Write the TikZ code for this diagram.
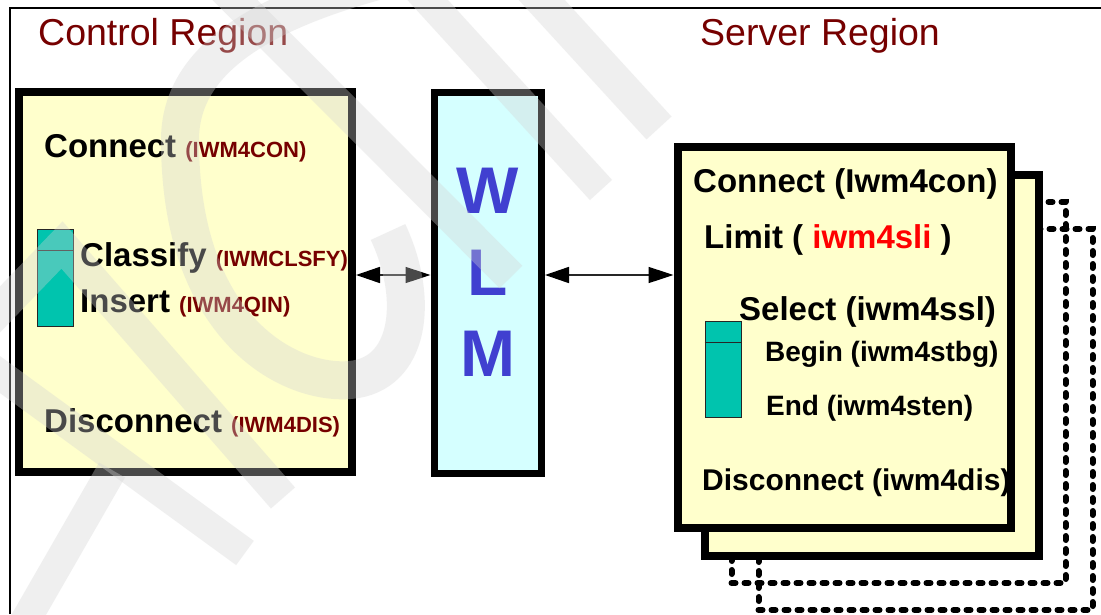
\documentclass[tikz,border=0pt]{standalone}
\usepackage{fontspec}
\setmainfont{Liberation Sans}
\usetikzlibrary{arrows.meta}

\definecolor{boxyellow}{HTML}{FFFFCC}
\definecolor{wlmcyan}{HTML}{D5FFFF}
\definecolor{wlmblue}{HTML}{4040D0}
\definecolor{queueteal}{HTML}{00C4AE}
\definecolor{modred}{HTML}{760000}
\definecolor{hotred}{HTML}{FF0000}
\definecolor{stampgray}{HTML}{D4D4D4}

\newcommand{\fs}[1]{\fontsize{#1}{#1}\selectfont}

\tikzset{
  regionbox/.style={draw=black, line width=8pt, fill=boxyellow, inner sep=0pt},
  wlmbox/.style={draw=black, line width=7pt, fill=wlmcyan, inner sep=0pt},
  ghostbox/.style={draw=black, line width=6pt, line cap=round,
                   dash pattern=on 4pt off 9pt, inner sep=0pt},
  queuebar/.style={draw=black!85, line width=0.9pt, fill=queueteal, inner sep=0pt},
  callname/.style={anchor=base west, inner sep=0pt, font=\bfseries\fs{33}},
  callsmall/.style={anchor=base west, inner sep=0pt, font=\bfseries\fs{28}},
  regiontitle/.style={anchor=base west, inner sep=0pt, font=\fs{37.5}, text=modred},
  wlmletter/.style={font=\bfseries\fs{66}, text=wlmblue, inner sep=0pt},
  link/.style={line width=1.6pt, black!85,
               {Triangle[length=24pt,width=16pt,color=black]}-{Triangle[length=25pt,width=16pt,color=black]}},
  stamp/.style={draw=stampgray, draw opacity=0.35, line width=32pt, line cap=butt, line join=miter}
}

\begin{document}
\begin{tikzpicture}[x=1pt, y=-1pt]
\useasboundingbox (0,0) rectangle (1101,614);
\fill[white] (0,0) rectangle (1101,614);

% page frame
\draw[line width=1.2pt] (10,614) -- (10,8) -- (1101,8);

% titles
\node[regiontitle] (ctitle) at (38,45) {Control Region};
\node[regiontitle] (stitle) at (700,45) {Server Region};

% control region
\node[regionbox, minimum width=333pt, minimum height=380pt] (ctrl) at (185.5,282) {};
\node[callname] (ccon) at (44,157) {Connect \textcolor{modred}{\fs{22}(IWM4CON)}};
\node[callname] (ccls) at (80,266) {Classify \textcolor{modred}{\fs{22}(IWMCLSFY)}};
\node[callname] (cins) at (80,312) {Insert \textcolor{modred}{\fs{22}(IWM4QIN)}};
\node[callname] (cdis) at (44,432) {Disconnect \textcolor{modred}{\fs{22}(IWM4DIS)}};
\node[queuebar, minimum width=36pt, minimum height=97pt] (cq) at (55,277.5) {};
\coordinate (cqline) at (0,250);
\draw[black!85, line width=0.9pt] (cq.west |- cqline) -- (cq.east |- cqline);

% WLM
\node[wlmbox, minimum width=107.5pt, minimum height=381pt] (wlm) at (487.75,282.5) {};
\node[wlmletter] (lw) at (487.75,191) {W};
\node[wlmletter] (ll) at (487.75,272.5) {L};
\node[wlmletter] (lm) at (487.75,353.5) {M};

% server region: stacked address spaces
\node[ghostbox, minimum width=334pt, minimum height=381pt] (s4) at (925.5,419.5) {};
\node[ghostbox, minimum width=334pt, minimum height=381pt] (s3) at (898.5,392.5) {};
\node[regionbox, minimum width=334pt, minimum height=381pt] (s2) at (871.5,365.5) {};
\node[regionbox, minimum width=333.5pt, minimum height=381pt] (s1) at (844.25,337.5) {};

\node[callname] (scon) at (693,192) {Connect (Iwm4con)};
\node[callname] (slim) at (704,248) {Limit ( \textcolor{hotred}{iwm4sli} )};
\node[callname] (ssel) at (739,320) {Select (iwm4ssl)};
\node[callsmall] (sbeg) at (765,361) {Begin (iwm4stbg)};
\node[callsmall] (send) at (766,415) {End (iwm4sten)};
\node[callname, font=\bfseries\fs{30}] (sdis) at (702,490) {Disconnect (iwm4dis)};
\node[queuebar, minimum width=36pt, minimum height=96pt] (sq) at (723,369) {};
\coordinate (sqline) at (0,342);
\draw[black!85, line width=0.9pt] (sq.west |- sqline) -- (sq.east |- sqline);

% connectors
\coordinate (ay) at (0,275);
\draw[link] (ctrl.east |- ay) -- (wlm.west |- ay);
\draw[link] (wlm.east |- ay) -- (s1.west |- ay);

% background stamp
\begin{scope}
\clip (0,0) rectangle (1101,614);
\draw[stamp, line width=34pt] (518,-26) -- (659,128);
\draw[stamp, line width=30pt] (404,-26) -- (601,190);
\draw[stamp] (209,-26) -- (511,277);
\draw[stamp, line width=38pt] (400,-25) .. controls (260,10) and (180,60) .. (180,140)
      .. controls (180,330) and (290,385) .. (350,380)
      .. controls (410,375) and (420,300) .. (388,232);
\draw[stamp] (-15,325) -- (62,245) -- (283,498);
\draw[stamp, line width=30pt] (-20,360) -- (245,553);
\draw[stamp, line width=30pt] (20,630) -- (112,470);
\end{scope}
\end{tikzpicture}
\end{document}
